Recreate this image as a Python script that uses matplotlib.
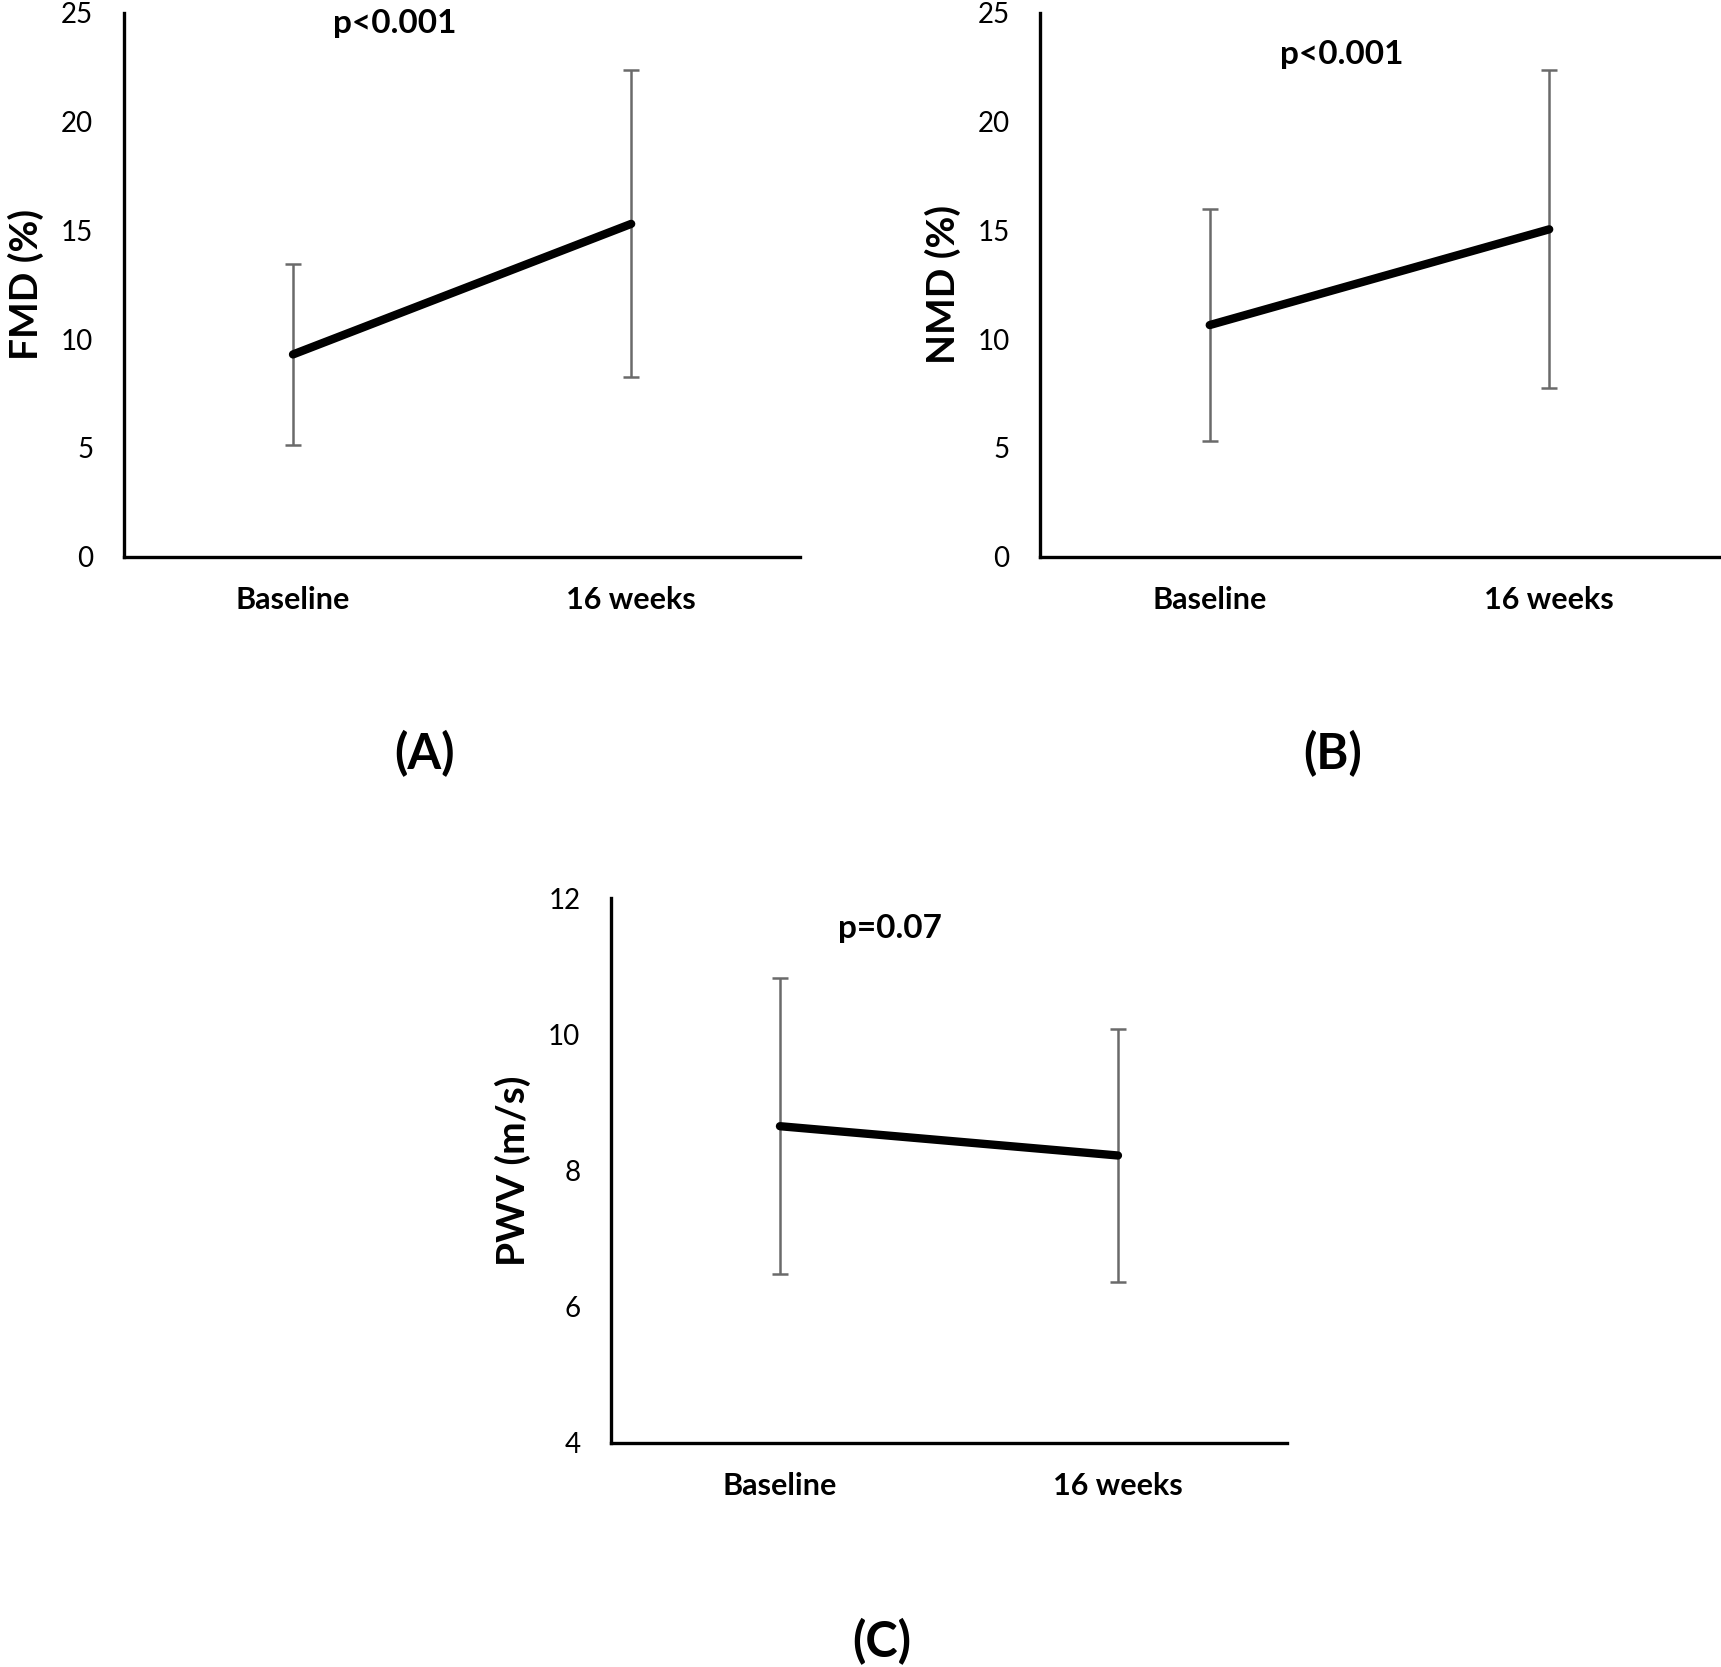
import matplotlib
matplotlib.use("Agg")
import matplotlib.pyplot as plt

plt.rcParams['font.family'] = ['Lato', 'DejaVu Sans']

categories = ["Baseline", "16 weeks"]

fmd_mean = [9.3, 15.3]
fmd_err = [4.15, 7.05]
nmd_mean = [10.65, 15.05]
nmd_err = [5.35, 7.3]
pwv_mean = [8.65, 8.22]
pwv_err = [2.17, 1.85]

panels = [
    dict(mean=fmd_mean, err=fmd_err, ylabel="FMD (%)", ylim=(0, 25), yticks=[0, 5, 10, 15, 20, 25],
         p="p<0.001", pxy=(0.30, 24.5), tag="(A)",
         rect=[0.072, 0.666, 0.393, 0.3263], tagxy=(424, 754)),
    dict(mean=nmd_mean, err=nmd_err, ylabel="NMD (%)", ylim=(0, 25), yticks=[0, 5, 10, 15, 20, 25],
         p="p<0.001", pxy=(0.39, 23.07), tag="(B)",
         rect=[0.6043, 0.666, 0.3945, 0.3263], tagxy=(1333, 754)),
    dict(mean=pwv_mean, err=pwv_err, ylabel="PWV (m/s)", ylim=(4, 12), yticks=[4, 6, 8, 10, 12],
         p="p=0.07", pxy=(0.325, 11.55), tag="(C)",
         rect=[0.355, 0.1344, 0.3928, 0.3269], tagxy=(882, 1642)),
]

W, H = 1721, 1667
fig = plt.figure(figsize=(W / 100, H / 100), dpi=100)

for pn in panels:
    ax = fig.add_axes(pn["rect"])
    x = list(range(len(categories)))
    ax.errorbar(x, pn["mean"], yerr=pn["err"], fmt="none", ecolor="#6a6a6a",
                elinewidth=1.8, capsize=6, capthick=1.8, zorder=2)
    ax.plot(x, pn["mean"], color="black", lw=6, solid_capstyle="round", zorder=3)
    ax.set_xlim(-0.5, 1.5)
    ax.set_ylim(*pn["ylim"])
    ax.set_yticks(pn["yticks"])
    ax.set_xticks(x)
    ax.set_xticklabels(categories, fontsize=22, fontweight="bold")
    ax.tick_params(axis="y", length=0, pad=22, labelsize=20)
    ax.tick_params(axis="x", length=0, pad=21)
    for s in ["top", "right"]:
        ax.spines[s].set_visible(False)
    for s in ["left", "bottom"]:
        ax.spines[s].set_linewidth(2.4)
        ax.spines[s].set_color("black")
    ax.set_ylabel(pn["ylabel"], fontsize=28, fontweight="bold", labelpad=12)
    ax.text(pn["pxy"][0], pn["pxy"][1], pn["p"], fontsize=24, fontweight="bold",
            ha="center", va="center")
    fig.text(pn["tagxy"][0] / W, 1 - pn["tagxy"][1] / H, pn["tag"], fontsize=35,
             fontweight="bold", ha="center", va="center")

fig.savefig("out.png", dpi=100, facecolor="white")
